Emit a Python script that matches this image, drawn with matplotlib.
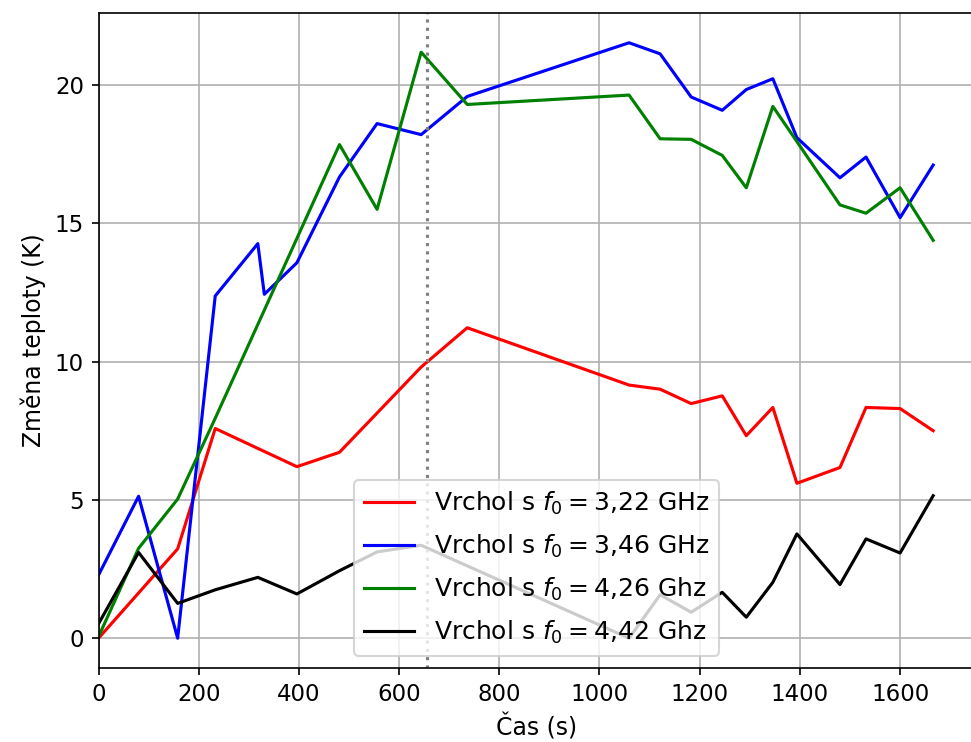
import matplotlib
matplotlib.use("Agg")
import matplotlib.pyplot as plt

# Time points (s) and temperature change (K) for each peak
t_red = [0, 158, 233, 396, 481, 644, 736, 1059, 1121, 1183, 1245, 1293, 1346, 1394, 1480, 1532, 1600, 1666]
y_red = [0.0, 3.23, 7.58, 6.2, 6.72, 9.8, 11.22, 9.15, 9.0, 8.48, 8.76, 7.32, 8.34, 5.6, 6.17, 8.34, 8.3, 7.5]

t_blue = [0, 80, 158, 233, 318, 331, 396, 481, 556, 644, 736, 1059, 1121, 1183, 1245, 1293, 1346, 1394, 1480, 1532, 1600, 1666]
y_blue = [2.28, 5.13, 0.0, 12.37, 14.26, 12.43, 13.57, 16.67, 18.6, 18.2, 19.58, 21.52, 21.12, 19.56, 19.08, 19.83, 20.22, 18.09, 16.64, 17.39, 15.2, 17.1]

t_green = [0, 80, 158, 233, 481, 556, 644, 736, 1059, 1121, 1183, 1245, 1293, 1346, 1394, 1480, 1532, 1600, 1666]
y_green = [0.05, 3.25, 5.03, 7.95, 17.84, 15.5, 21.18, 19.29, 19.63, 18.05, 18.03, 17.45, 16.28, 19.22, 17.95, 15.66, 15.36, 16.28, 14.38]

t_black = [0, 80, 158, 233, 318, 396, 481, 556, 644, 1059, 1121, 1183, 1245, 1293, 1346, 1394, 1480, 1532, 1600, 1666]
y_black = [0.52, 3.1, 1.26, 1.75, 2.2, 1.6, 2.44, 3.12, 3.36, 0.0, 1.57, 0.94, 1.66, 0.76, 2.02, 3.77, 1.94, 3.59, 3.08, 5.15]

t_marker = 656

labels = [
    r"Vrchol s $f_0 = 3{,}22$ GHz",
    r"Vrchol s $f_0 = 3{,}46$ GHz",
    r"Vrchol s $f_0 = 4{,}26$ Ghz",
    r"Vrchol s $f_0 = 4{,}42$ Ghz",
]

W, H = 971, 742
fig = plt.figure(figsize=(W / 150, H / 150), dpi=150)
ax = fig.add_axes([0, 0, 1, 1])

ax.plot(t_red, y_red, color="red", label=labels[0])
ax.plot(t_blue, y_blue, color="blue", label=labels[1])
ax.plot(t_green, y_green, color="green", label=labels[2])
ax.plot(t_black, y_black, color="black", label=labels[3])
ax.axvline(t_marker, color="gray", ls=":")

ax.set_xlim(left=0)
ax.grid(True)
ax.tick_params(labelsize=11)
ax.set_xlabel("Čas (s)", fontsize=11.3)
ax.set_ylabel("Změna teploty (K)", fontsize=11.3)
ax.legend(loc="lower center", fontsize=12, labelspacing=0.62)

# place axes so that 1 s = 0.501 px, right edge cut off like the original
x0, x1 = ax.get_xlim()
left_px, bottom_px, top_px = 98.5, 668, 13
width_px = 0.501 * (x1 - x0)
ax.set_position([left_px / W, 1 - bottom_px / H, width_px / W, (bottom_px - top_px) / H])

fig.savefig("out.png", dpi=150)
